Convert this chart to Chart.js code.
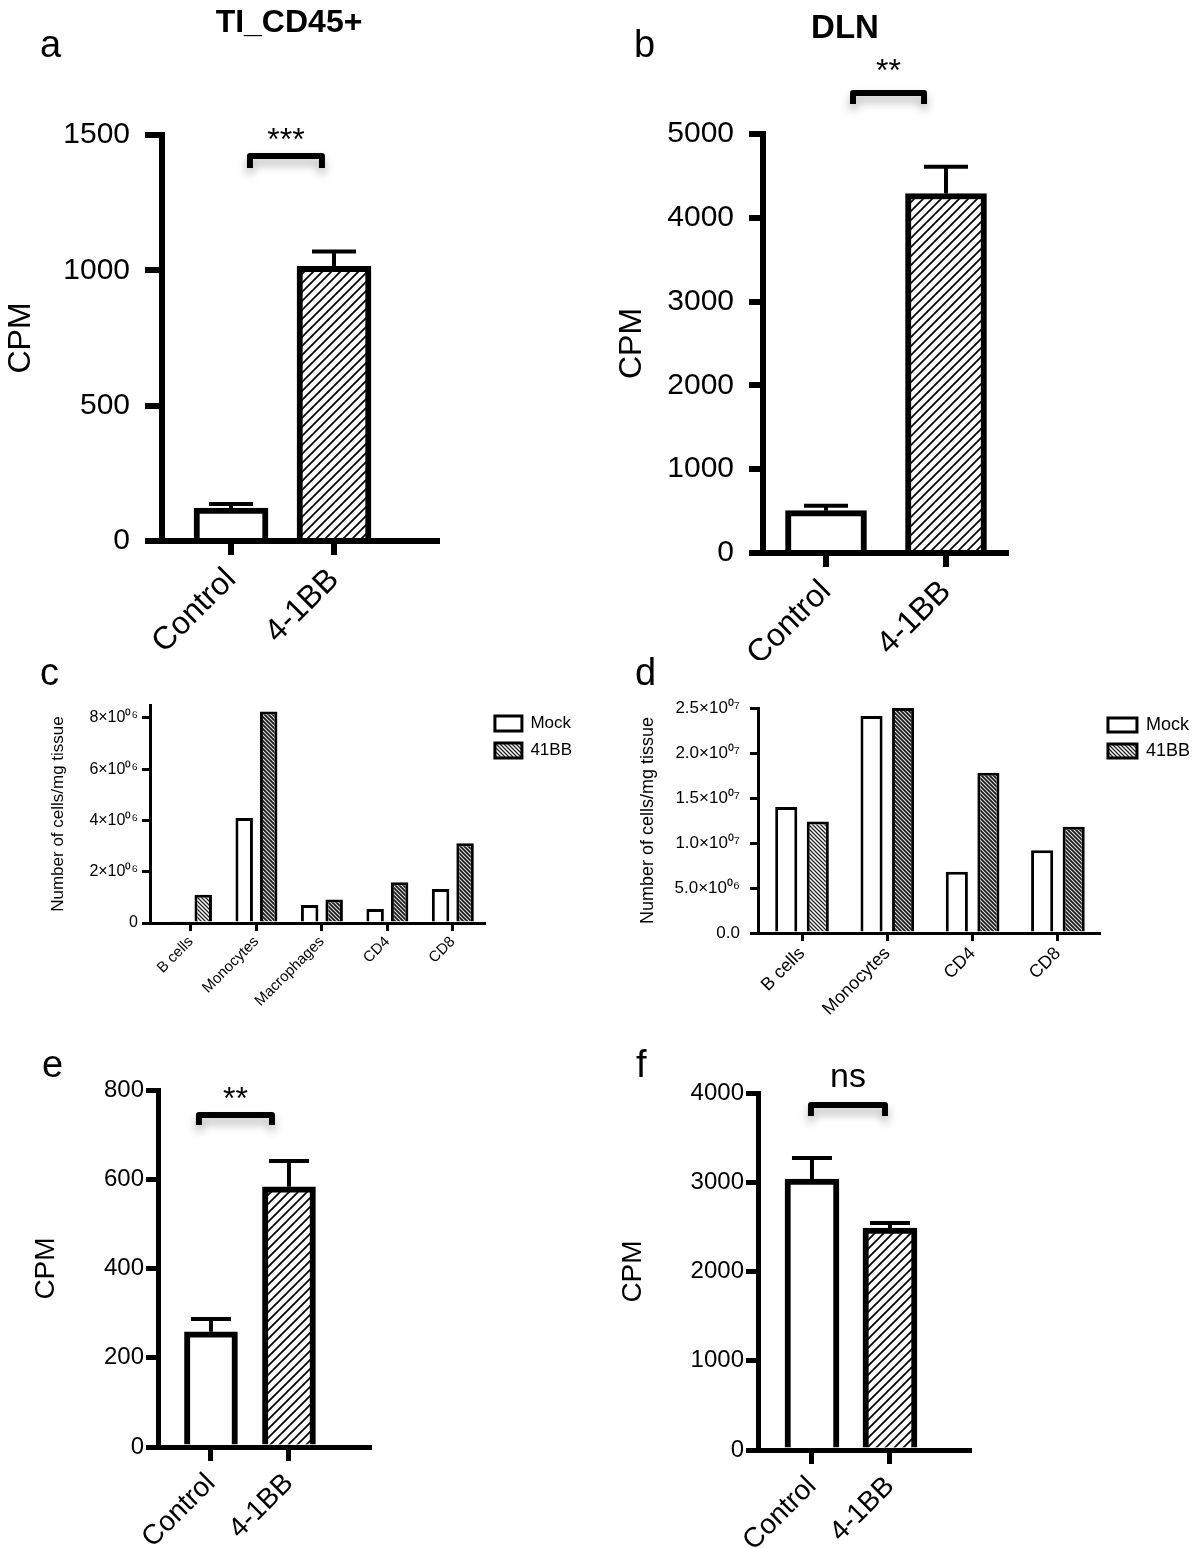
<!DOCTYPE html>
<html>
<head>
<meta charset="utf-8">
<script src="https://cdn.jsdelivr.net/npm/chart.js@4.4.1/dist/chart.umd.min.js"></script>
<style>
body { margin: 0; background: #fff; }
#page { position: relative; width: 1200px; height: 1548px; overflow: hidden; font-family: 'Liberation Sans', Arial, sans-serif; }
canvas { position: absolute; }
.lbl { position: absolute; line-height: 1; color: #000; white-space: nowrap; }
</style>
</head>
<body>
<div id="page">
  <canvas id="chartA" width="600" height="660" style="left:0;top:0"></canvas>
  <canvas id="chartB" width="600" height="660" style="left:600px;top:0"></canvas>
  <canvas id="chartC" width="600" height="380" style="left:0;top:660px"></canvas>
  <canvas id="chartD" width="600" height="380" style="left:600px;top:660px"></canvas>
  <canvas id="chartE" width="600" height="508" style="left:0;top:1040px"></canvas>
  <canvas id="chartF" width="600" height="508" style="left:600px;top:1040px"></canvas>

  <div class="lbl" style="left:40px;top:25px;font-size:38px">a</div>
  <div class="lbl" style="left:634px;top:25px;font-size:38px">b</div>
  <div class="lbl" style="left:40px;top:653px;font-size:38px">c</div>
  <div class="lbl" style="left:635px;top:653px;font-size:38px">d</div>
  <div class="lbl" style="left:42px;top:1045px;font-size:38px">e</div>
  <div class="lbl" style="left:636px;top:1045px;font-size:38px">f</div>
  <div class="lbl" style="left:289px;top:5px;font-size:32px;font-weight:bold;transform:translateX(-50%)">TI_CD45+</div>
  <div class="lbl" style="left:845px;top:10px;font-size:33px;font-weight:bold;transform:translateX(-50%)">DLN</div>
</div>
<script>
// values
var groups = ['Control', '4-1BB'];
var tiCpm = [122, 1015];
var tiSem = [15, 55];
var dlnCpm = [505, 4290];
var dlnSem = [60, 320];
var eCpm = [258, 583];
var eSem = [29, 58];
var fCpm = [3036, 2487];
var fSem = [236, 56];

var cellsC = ['B cells', 'Monocytes', 'Macrophages', 'CD4', 'CD8'];
var mockC = [50000, 4090000, 700000, 550000, 1330000];
var bbC = [1100000, 8250000, 920000, 1590000, 3110000];

var cellsD = ['B cells', 'Monocytes', 'CD4', 'CD8'];
var mockD = [14000000, 24100000, 6800000, 9200000];
var bbD = [12400000, 25000000, 17800000, 11800000];

var legendNames = ['Mock', '41BB'];

// y tick values
var ticksA = [0, 500, 1000, 1500];
var ticksB = [0, 1000, 2000, 3000, 4000, 5000];
var ticksC = [0, 2000000, 4000000, 6000000, 8000000];
var ticksD = [0, 5000000, 10000000, 15000000, 20000000, 25000000];
var ticksE = [0, 200, 400, 600, 800];
var ticksF = [0, 1000, 2000, 3000, 4000];

Chart.defaults.font.family = "'Liberation Sans', Arial, sans-serif";
Chart.defaults.color = '#000';
Chart.defaults.animation = false;

function hatch(size, lw, fg, bg, forward) {
    var c = document.createElement('canvas');
    c.width = c.height = size;
    var g = c.getContext('2d');
    g.fillStyle = bg;
    g.fillRect(0, 0, size, size);
    g.strokeStyle = fg;
    g.lineWidth = lw;
    g.beginPath();
    if (forward) {
        g.moveTo(-size, size); g.lineTo(size, -size);
        g.moveTo(0, size); g.lineTo(size, 0);
        g.moveTo(0, 2 * size); g.lineTo(2 * size, 0);
    } else {
        g.moveTo(-size, 0); g.lineTo(size, 2 * size);
        g.moveTo(0, 0); g.lineTo(size, size);
        g.moveTo(0, -size); g.lineTo(2 * size, size);
    }
    g.stroke();
    return g.createPattern(c, 'repeat');
}

var hatchWide = hatch(9, 1.7, '#000', '#fff', true);
var hatchLight = hatch(4, 1.3, '#222', '#fff', false);
var hatchDark = hatch(4, 1.1, '#e0e0e0', '#1a1a1a', false);

function supDigits(s) {
    return s.replace(/\d/g, function (d) { return '⁰¹²³⁴⁵⁶⁷⁸⁹'[d]; });
}

function sciLabel(v, dec, zero) {
    if (v === 0) return zero;
    var e = Math.floor(Math.log10(v) + 1e-9);
    var m = v / Math.pow(10, e);
    var es = String(e);
    if (es.length < 2) es = '0' + es;
    return m.toFixed(dec) + '×10' + supDigits(es);
}

// upward-only error bars, prism style
var errorBars = {
    id: 'errorBars',
    afterDatasetsDraw: function (chart, args, o) {
        if (!o.errors) return;
        var ctx = chart.ctx, y = chart.scales.y;
        var meta = chart.getDatasetMeta(0);
        ctx.save();
        ctx.strokeStyle = '#000';
        ctx.lineWidth = o.lineWidth;
        meta.data.forEach(function (bar, i) {
            var v = chart.data.datasets[0].data[i].y;
            var top = y.getPixelForValue(v + o.errors[i]);
            ctx.beginPath();
            ctx.moveTo(bar.x, bar.y);
            ctx.lineTo(bar.x, top);
            ctx.moveTo(bar.x - o.cap / 2, top);
            ctx.lineTo(bar.x + o.cap / 2, top);
            ctx.stroke();
        });
        ctx.restore();
    }
};

var bracket = {
    id: 'bracket',
    afterDraw: function (chart, args, o) {
        if (!o.text) return;
        var ctx = chart.ctx;
        var x1 = chart.scales.x.getPixelForValue(o.from);
        var x2 = chart.scales.x.getPixelForValue(o.to);
        var yy = chart.scales.y.getPixelForValue(o.at);
        ctx.save();
        ctx.shadowColor = 'rgba(0,0,0,0.3)';
        ctx.shadowBlur = 10;
        ctx.shadowOffsetY = 6;
        ctx.strokeStyle = '#000';
        ctx.lineWidth = 6;
        ctx.lineJoin = 'round';
        ctx.beginPath();
        ctx.moveTo(x1, yy + o.leg);
        ctx.lineTo(x1, yy);
        ctx.lineTo(x2, yy);
        ctx.lineTo(x2, yy + o.leg);
        ctx.stroke();
        ctx.shadowColor = 'transparent';
        ctx.fillStyle = '#000';
        ctx.font = o.fontSize + "px 'Liberation Sans', Arial, sans-serif";
        ctx.textAlign = 'center';
        ctx.textBaseline = 'alphabetic';
        ctx.fillText(o.text, (x1 + x2) / 2, yy - o.gap);
        ctx.restore();
    }
};

function axisStyle(lw, tl) {
    return {
        grid: { display: true, drawOnChartArea: false, drawTicks: true, tickLength: tl, lineWidth: lw, tickWidth: lw, color: '#000', tickColor: '#000', offset: false },
        border: { display: true, color: '#000', width: lw }
    };
}

function fixedTicks(list) {
    return function (s) { s.ticks = list.map(function (v) { return { value: v }; }); };
}

function cpmPanel(id, p) {
    var xs = axisStyle(p.axisWidth, p.xTick);
    var ys = axisStyle(p.axisWidth, p.yTick);
    new Chart(document.getElementById(id), {
        type: 'bar',
        data: {
            datasets: [{
                data: p.values.map(function (v, i) { return { x: i, y: v }; }),
                backgroundColor: ['#fff', hatchWide],
                borderColor: '#000',
                borderWidth: p.barBorder,
                barThickness: p.barWidth
            }]
        },
        options: {
            responsive: false,
            layout: { padding: { left: p.pad[0], top: p.pad[1], right: p.pad[2], bottom: 0 } },
            scales: {
                x: {
                    type: 'linear', min: p.xRange[0], max: p.xRange[1], offset: false,
                    afterBuildTicks: fixedTicks(groups.map(function (g, i) { return i; })),
                    afterFit: function (s) { s.height = p.xHeight; },
                    grid: xs.grid, border: xs.border,
                    ticks: {
                        autoSkip: false, minRotation: 45, maxRotation: 45, padding: p.xPad,
                        font: { size: p.xFont }, color: '#000',
                        callback: function (v) { return groups[v]; }
                    }
                },
                y: {
                    min: 0, max: p.ticks[p.ticks.length - 1],
                    afterBuildTicks: fixedTicks(p.ticks),
                    afterFit: function (s) { s.width = p.yWidth; },
                    grid: ys.grid, border: ys.border,
                    ticks: { padding: p.yPad, font: { size: p.yFont }, color: '#000',
                        callback: function (v) { return String(v); } },
                    title: { display: true, text: 'CPM', font: { size: p.titleFont, lineHeight: 1 }, padding: 0, color: '#000' }
                }
            },
            plugins: {
                legend: { display: false },
                tooltip: { enabled: false },
                errorBars: { errors: p.errors, lineWidth: 4, cap: p.cap },
                bracket: p.bracket
            }
        },
        plugins: [errorBars, bracket]
    });
}

function cellPanel(id, p) {
    var xs = axisStyle(3, 8);
    var ys = axisStyle(3, 8);
    var toXY = function (v, i) { return { x: i, y: v }; };
    new Chart(document.getElementById(id), {
        type: 'bar',
        data: {
            datasets: [{
                label: legendNames[0],
                data: p.mock.map(toXY),
                backgroundColor: '#fff', borderColor: '#000', borderWidth: 3,
                categoryPercentage: p.catPct, barPercentage: p.barPct
            }, {
                label: legendNames[1],
                data: p.bb.map(toXY),
                backgroundColor: p.bb.map(function (v, i) { return i === 0 ? hatchLight : hatchDark; }),
                borderColor: '#000', borderWidth: 3,
                categoryPercentage: p.catPct, barPercentage: p.barPct
            }]
        },
        options: {
            responsive: false,
            layout: { padding: { left: p.pad[0], top: p.pad[1], right: p.pad[2], bottom: 0 } },
            scales: {
                x: {
                    type: 'linear', min: p.xRange[0], max: p.xRange[1], offset: false,
                    afterBuildTicks: fixedTicks(p.cats.map(function (c, i) { return i; })),
                    afterFit: function (s) { s.height = p.xHeight; },
                    grid: xs.grid, border: xs.border,
                    ticks: {
                        autoSkip: false, minRotation: 45, maxRotation: 45, padding: 2,
                        font: { size: p.xFont }, color: '#000',
                        callback: function (v) { return p.cats[v]; }
                    }
                },
                y: {
                    min: 0, max: p.yMax,
                    afterBuildTicks: fixedTicks(p.ticks),
                    afterFit: function (s) { s.width = p.yWidth; },
                    grid: ys.grid, border: ys.border,
                    ticks: { padding: p.yPad, font: { size: p.yFont }, color: '#000',
                        callback: function (v) { return sciLabel(v, p.dec, p.zero); } },
                    title: { display: true, text: 'Number of cells/mg tissue', font: { size: p.titleFont, lineHeight: 1 }, padding: 0, color: '#000' }
                }
            },
            plugins: {
                tooltip: { enabled: false },
                legend: {
                    display: true, position: 'right', align: 'start',
                    labels: {
                        boxWidth: p.box[0], boxHeight: p.box[1], padding: p.legendPad,
                        font: { size: p.legendFont }, color: '#000',
                        generateLabels: function () {
                            return legendNames.map(function (n, i) {
                                return { text: n, fillStyle: i === 0 ? '#fff' : hatchLight, strokeStyle: '#000',
                                    lineWidth: 3, hidden: false, datasetIndex: i, fontColor: '#000' };
                            });
                        }
                    }
                }
            }
        }
    });
}

cpmPanel('chartA', {
    values: tiCpm, errors: tiSem, ticks: ticksA, cap: 44, barWidth: 74, barBorder: 6, axisWidth: 6,
    pad: [5, 135, 163], yWidth: 157, xHeight: 119, xRange: [-0.670, 2.0],
    yFont: 30, yPad: 15, yTick: 17, xFont: 32, xPad: 6, xTick: 14, titleFont: 32,
    bracket: { text: '***', from: 0.184, to: 0.883, at: 1422, leg: 12, gap: 6, fontSize: 32 }
});

cpmPanel('chartB', {
    values: dlnCpm, errors: dlnSem, ticks: ticksB, cap: 44, barWidth: 81, barBorder: 6, axisWidth: 6,
    pad: [16, 134, 194], yWidth: 147, xHeight: 107, xRange: [-0.525, 1.50],
    yFont: 30, yPad: 15, yTick: 14, xFont: 32, xPad: 6, xTick: 14, titleFont: 32,
    bracket: { text: '**', from: 0.225, to: 0.817, at: 5489, leg: 11, gap: 12, fontSize: 32 }
});

cellPanel('chartC', {
    cats: cellsC, mock: mockC, bb: bbC, ticks: ticksC, yMax: 8500000, catPct: 0.748, barPct: 0.714,
    pad: [50, 45, 18], yWidth: 100, xHeight: 117, xRange: [-0.626, 4.49],
    dec: 0, zero: '0', yFont: 16, yPad: 4, xFont: 15, titleFont: 17,
    box: [27, 15], legendPad: 10, legendFont: 17
});

cellPanel('chartD', {
    cats: cellsD, mock: mockD, bb: bbD, ticks: ticksD, yMax: 25000000, catPct: 0.74, barPct: 0.70,
    pad: [39, 48, 0], yWidth: 119, xHeight: 107, xRange: [-0.516, 3.493],
    dec: 1, zero: '0.0', yFont: 17, yPad: 10, xFont: 18, titleFont: 18,
    box: [29, 14], legendPad: 8, legendFont: 18
});

cpmPanel('chartE', {
    values: eCpm, errors: eSem, ticks: ticksE, cap: 40, barWidth: 53, barBorder: 6, axisWidth: 5,
    pad: [32, 50, 231], yWidth: 126, xHeight: 101, xRange: [-0.679, 2.026],
    yFont: 24, yPad: 2, yTick: 12, xFont: 28, xPad: 6, xTick: 14, titleFont: 28,
    bracket: { text: '**', from: -0.154, to: 0.782, at: 744, leg: 10, gap: 6, fontSize: 32 }
});

cpmPanel('chartF', {
    values: fCpm, errors: fSem, ticks: ticksF, cap: 40, barWidth: 54, barBorder: 6, axisWidth: 5,
    pad: [19, 53, 231], yWidth: 139, xHeight: 98, xRange: [-0.692, 2.013],
    yFont: 24, yPad: 2, yTick: 12, xFont: 28, xPad: 6, xTick: 14, titleFont: 28,
    bracket: { text: 'ns', from: -0.013, to: 0.936, at: 3866, leg: 11, gap: 18, fontSize: 34 }
});
</script>
</body>
</html>
